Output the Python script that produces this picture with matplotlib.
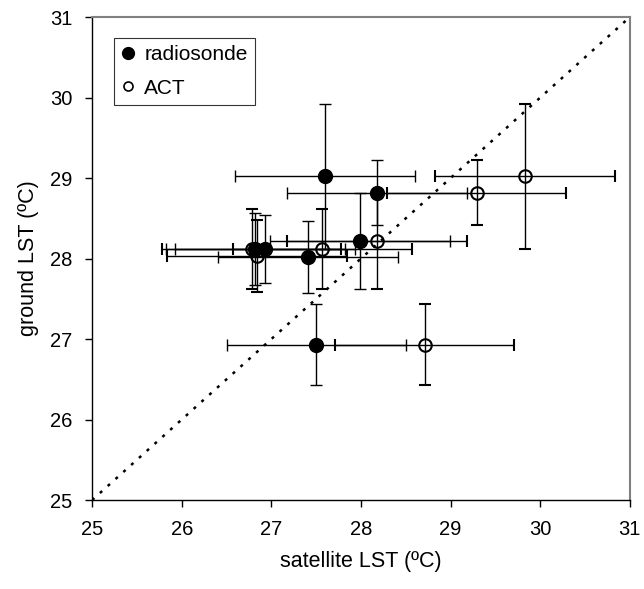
import matplotlib
matplotlib.use('Agg')
import matplotlib.pyplot as plt

plt.rcParams['font.family'] = ['Liberation Sans', 'DejaVu Sans']

# radiosonde points
rs_sat = [27.6, 28.18, 27.99, 27.41, 26.82, 26.93, 27.5]
rs_ground = [29.02, 28.82, 28.22, 28.02, 28.12, 28.12, 26.93]
rs_xerr = [1.0, 1.0, 1.0, 1.0, 1.0, 1.0, 1.0]
rs_yerr = [0.9, 0.4, 0.6, 0.45, 0.45, 0.42, 0.5]

# ACT points
act_sat = [29.83, 29.29, 28.18, 27.57, 26.78, 26.84, 28.71]
act_ground = [29.02, 28.82, 28.22, 28.12, 28.12, 28.03, 26.93]
act_xerr = [1.0, 1.0, 1.0, 1.0, 1.0, 1.0, 1.0]
act_yerr = [0.9, 0.4, 0.6, 0.5, 0.5, 0.45, 0.5]

ticks = [25, 26, 27, 28, 29, 30, 31]

fig = plt.figure(figsize=(6.44, 5.89), dpi=100)
ax = fig.add_axes([0.143, 0.151, 0.835, 0.82])

# 1:1 line
ax.plot([25, 31], [25, 31], color='black', linestyle=(0, (1.2, 3)), lw=1.8, zorder=1)

ax.errorbar(act_sat, act_ground, xerr=act_xerr, yerr=act_yerr, fmt='o',
            color='black', ecolor='black', elinewidth=1, capsize=4, capthick=1,
            markersize=9, markerfacecolor='none', markeredgewidth=1.5, zorder=2)
ax.errorbar(rs_sat, rs_ground, xerr=rs_xerr, yerr=rs_yerr, fmt='o',
            color='black', ecolor='black', elinewidth=1, capsize=4, capthick=1,
            markersize=10, markerfacecolor='black', zorder=3)

# legend handles
h1, = ax.plot([], [], 'o', color='black', markersize=8.5, label='radiosonde')
h2, = ax.plot([], [], 'o', color='black', markerfacecolor='none',
              markeredgewidth=1.2, markersize=6.5, label='ACT')
leg = ax.legend(handles=[h1, h2], loc='upper left', bbox_to_anchor=(0.041, 0.957),
                fontsize=15, frameon=True, fancybox=False, handlelength=0.6,
                handletextpad=0.5, borderpad=0.35, labelspacing=0.7,
                borderaxespad=0)
leg.get_frame().set_edgecolor('black')
leg.get_frame().set_linewidth(0.8)

ax.set_xlim(25, 31)
ax.set_ylim(25, 31)
ax.set_xticks(ticks)
ax.set_yticks(ticks)
ax.tick_params(direction='out', length=5, width=1, labelsize=14.5, pad=9,
               top=False, right=False)
ax.set_xlabel('satellite LST (ºC)', fontsize=15.5, labelpad=9)
ax.set_ylabel('ground LST (ºC)', fontsize=15.5, labelpad=8)

for s in ['left', 'bottom']:
    ax.spines[s].set_color('black')
    ax.spines[s].set_linewidth(1)
for s in ['top', 'right']:
    ax.spines[s].set_color('#808080')
    ax.spines[s].set_linewidth(1.5)

fig.savefig('out.png', dpi=100)
